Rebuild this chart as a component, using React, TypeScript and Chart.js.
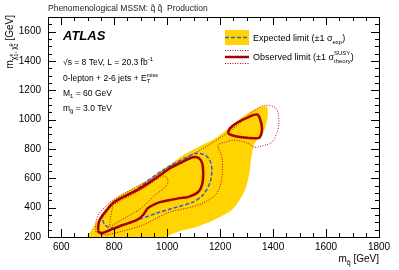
import React, { useEffect, useRef } from 'react';
import { Chart, registerables } from 'chart.js';

Chart.register(...registerables);

// ---- axis ticks ----
const xTickValues = [600, 800, 1000, 1200, 1400, 1600, 1800];
const yTickValues = [200, 400, 600, 800, 1000, 1200, 1400, 1600];
const xRange = [550, 1800];
const yRange = [200, 1700];

// ---- contours: [m_squark, m_chargino] in GeV ----
const expectedBand: [number, number][] = [
  [697, 200], [709, 234], [724, 275], [746, 336], [784, 431], [829, 492], [878, 540],
  [927, 588], [973, 649], [1018, 703], [1060, 758], [1124, 819], [1188, 880], [1244, 962],
  [1305, 1043], [1350, 1084], [1376, 1091], [1380, 1030], [1373, 962], [1358, 894],
  [1335, 853], [1324, 805], [1316, 724], [1309, 622], [1294, 520], [1271, 445],
  [1244, 384], [1199, 336], [1150, 295], [1097, 261], [1048, 241], [1018, 220], [992, 200],
];

const expectedLine: [number, number][] = [
  [754, 329], [769, 384], [799, 438], [837, 479], [886, 526], [935, 594], [984, 656],
  [1022, 696], [1075, 744], [1112, 771], [1143, 758], [1161, 724], [1169, 656],
  [1161, 567], [1135, 486], [1097, 438], [1037, 404], [973, 370], [897, 322],
  [841, 288], [795, 261], [765, 282],
];

const observedMain: [number, number][] = [
  [739, 248], [742, 302], [754, 343], [773, 384], [795, 431], [833, 472], [886, 520],
  [935, 574], [984, 635], [1010, 669], [1048, 703], [1086, 737], [1112, 744], [1127, 724],
  [1135, 676], [1135, 588], [1127, 533], [1112, 499], [1078, 472], [1048, 465],
  [1010, 452], [973, 438], [954, 424], [927, 397], [909, 350], [886, 316], [833, 282],
  [784, 248], [754, 227], [742, 234],
];

const observedIsland: [number, number][] = [
  [1229, 907], [1237, 941], [1267, 982], [1305, 1016], [1339, 1036], [1350, 1009],
  [1358, 941], [1350, 880], [1331, 873], [1282, 880], [1244, 894],
];

const observedPlus: [number, number][] = [
  [731, 234], [731, 302], [742, 356], [765, 404], [795, 452], [841, 499], [897, 554],
  [954, 615], [1010, 683], [1067, 737], [1124, 792], [1180, 853], [1237, 921],
  [1286, 996], [1331, 1064], [1369, 1098], [1407, 1084], [1418, 1050], [1422, 982],
  [1414, 907], [1395, 846], [1369, 826], [1331, 812], [1305, 839], [1256, 860],
  [1218, 846], [1192, 826], [1207, 744], [1207, 608], [1188, 499], [1135, 431],
  [1075, 397], [1010, 370], [961, 329], [909, 282], [833, 241], [765, 214],
];

const observedMinus: [number, number][] = [
  [795, 418], [833, 458], [886, 506], [935, 560], [973, 608], [992, 615], [1003, 588],
  [999, 554], [980, 520], [954, 486], [927, 438], [897, 390], [859, 350], [814, 302],
  [784, 275],
];

const YELLOW = '#FFD400';
const RED = '#A80000';
const RED_DOT = '#C00000';
const BLUE = '#3C5AD8';
const FONT = "'Liberation Sans', Arial, Helvetica, sans-serif";

const closed = (pts: [number, number][]) =>
  [...pts, pts[0]].map(([x, y]) => ({ x, y }));

type Seg = { t: string; s: number; dy: number; adv?: boolean; w?: string };

function segsWidth(ctx: CanvasRenderingContext2D, segs: Seg[]) {
  let w = 0;
  for (const g of segs) {
    ctx.font = `${g.w || ''} ${g.s}px ${FONT}`;
    if (g.adv !== false) w += ctx.measureText(g.t).width;
  }
  return w;
}

function drawSegs(ctx: CanvasRenderingContext2D, segs: Seg[], x: number, y: number) {
  let cx = x;
  for (const g of segs) {
    ctx.font = `${g.w || ''} ${g.s}px ${FONT}`;
    ctx.fillText(g.t, cx, y + g.dy);
    if (g.adv !== false) cx += ctx.measureText(g.t).width;
  }
  return cx;
}

const deco = {
  id: 'deco',
  afterDraw(chart: any) {
    const { ctx, chartArea: a } = chart;
    const xs = chart.scales.x;
    const ys = chart.scales.y;
    ctx.save();
    // frame
    ctx.strokeStyle = '#000';
    ctx.lineWidth = 1;
    ctx.strokeRect(Math.round(a.left) + 0.5, Math.round(a.top) + 0.5,
      Math.round(a.right - a.left), Math.round(a.bottom - a.top));
    // ticks
    ctx.beginPath();
    for (let v = xRange[0]; v <= xRange[1]; v += 50) {
      const px = Math.round(xs.getPixelForValue(v)) + 0.5;
      const len = v % 200 === 0 ? 8 : 4;
      ctx.moveTo(px, a.bottom); ctx.lineTo(px, a.bottom - len);
      ctx.moveTo(px, a.top); ctx.lineTo(px, a.top + len);
    }
    for (let v = yRange[0]; v <= yRange[1]; v += 50) {
      const py = Math.round(ys.getPixelForValue(v)) + 0.5;
      const len = v % 200 === 0 ? 8 : 4;
      ctx.moveTo(a.left, py); ctx.lineTo(a.left + len, py);
      ctx.moveTo(a.right, py); ctx.lineTo(a.right - len, py);
    }
    ctx.stroke();

    ctx.fillStyle = '#000';
    ctx.textBaseline = 'alphabetic';
    ctx.textAlign = 'left';

    // title
    ctx.fillStyle = '#222';
    drawSegs(ctx, [
      { t: 'Phenomenological MSSM: q\u0303 q\u0303  Production', s: 8.5, dy: 0 },
    ], a.left, 11);

    // ATLAS
    ctx.fillStyle = '#000';
    drawSegs(ctx, [{ t: 'ATLAS', s: 13, dy: 0, w: 'italic bold' }], 63, 40);

    const fs = 8.5;
    drawSegs(ctx, [
      { t: '\u221As = 8 TeV, L = 20.3 fb', s: fs, dy: 0 },
      { t: '-1', s: 6, dy: -4 },
    ], 63, 65);
    drawSegs(ctx, [
      { t: '0-lepton + 2-6 jets + E', s: fs, dy: 0 },
      { t: 'miss', s: 5.5, dy: -4, adv: false },
      { t: 'T', s: 6, dy: 2 },
    ], 63, 81);
    drawSegs(ctx, [
      { t: 'M', s: fs, dy: 0 },
      { t: '1', s: 6, dy: 2 },
      { t: ' = 60 GeV', s: fs, dy: 0 },
    ], 63, 96);
    drawSegs(ctx, [
      { t: 'm', s: fs, dy: 0 },
      { t: 'g\u0303', s: 6, dy: 2 },
      { t: ' = 3.0 TeV', s: fs, dy: 0 },
    ], 63, 111);

    // legend
    ctx.fillStyle = YELLOW;
    ctx.fillRect(225, 30, 24, 15);
    ctx.strokeStyle = BLUE;
    ctx.lineWidth = 1.5;
    ctx.setLineDash([4, 2]);
    ctx.beginPath(); ctx.moveTo(225, 37.5); ctx.lineTo(249, 37.5); ctx.stroke();
    ctx.setLineDash([1, 1.5]);
    ctx.strokeStyle = RED_DOT;
    ctx.lineWidth = 1;
    ctx.beginPath();
    ctx.moveTo(225, 50.5); ctx.lineTo(249, 50.5);
    ctx.moveTo(225, 63.5); ctx.lineTo(249, 63.5);
    ctx.stroke();
    ctx.setLineDash([]);
    ctx.strokeStyle = RED;
    ctx.lineWidth = 2.5;
    ctx.beginPath(); ctx.moveTo(225, 57); ctx.lineTo(249, 57); ctx.stroke();

    ctx.fillStyle = '#000';
    drawSegs(ctx, [
      { t: 'Expected limit (\u00B11 \u03C3', s: 9, dy: 0 },
      { t: 'exp', s: 6, dy: 2.5 },
      { t: ')', s: 9, dy: 0 },
    ], 253, 41);
    drawSegs(ctx, [
      { t: 'Observed limit (\u00B11 \u03C3', s: 9, dy: 0 },
      { t: 'SUSY', s: 6, dy: -5, adv: false },
      { t: 'theory', s: 6, dy: 3 },
      { t: ')', s: 9, dy: 0 },
    ], 253, 60);

    // x title
    const xt: Seg[] = [
      { t: 'm', s: 10, dy: 0 },
      { t: 'q\u0303', s: 7, dy: 2.5 },
      { t: ' [GeV]', s: 10, dy: 0 },
    ];
    const xw = segsWidth(ctx, xt);
    drawSegs(ctx, xt, a.right - xw, 262);

    // y title (rotated)
    const yt: Seg[] = [
      { t: 'm', s: 10, dy: 0 },
      { t: '\u03C7\u0303', s: 7, dy: 2.5 },
      { t: '\u00B1', s: 5, dy: -0.5, adv: false },
      { t: '1', s: 5, dy: 5 },
      { t: ', \u03C7\u0303', s: 7, dy: 2.5 },
      { t: '0', s: 5, dy: -0.5, adv: false },
      { t: '2', s: 5, dy: 5 },
      { t: ' [GeV]', s: 10, dy: 0 },
    ];
    const yw = segsWidth(ctx, yt);
    ctx.translate(13, 0);
    ctx.rotate(-Math.PI / 2);
    drawSegs(ctx, yt, -15 - yw, 0);
    ctx.restore();
  },
};

export default function App() {
  const ref = useRef<HTMLCanvasElement | null>(null);
  useEffect(() => {
    document.body.style.margin = '0';
    if (!ref.current) return;
    const line = (pts: [number, number][], color: string, width: number, dash: number[], order: number) => ({
      data: closed(pts),
      showLine: true,
      fill: false,
      borderColor: color,
      borderWidth: width,
      borderDash: dash,
      pointRadius: 0,
      tension: 0.3,
      order,
    });
    const chart = new Chart(ref.current, {
      type: 'scatter',
      data: {
        datasets: [
          {
            data: closed(expectedBand),
            showLine: true,
            fill: 'shape',
            backgroundColor: YELLOW,
            borderColor: YELLOW,
            borderWidth: 0,
            pointRadius: 0,
            tension: 0.3,
            order: 10,
          } as any,
          line(observedPlus, RED_DOT, 1, [1, 1.5], 6),
          line(observedMinus, RED_DOT, 1, [1, 1.5], 5),
          line(expectedLine, BLUE, 1.5, [4, 2], 4),
          line(observedMain, RED, 2.5, [], 2),
          line(observedIsland, RED, 2.5, [], 1),
        ],
      },
      options: {
        responsive: false,
        animation: false,
        devicePixelRatio: 1,
        events: [],
        layout: { padding: { top: 17, right: 20, left: 0, bottom: 0 } },
        plugins: {
          legend: { display: false },
          tooltip: { enabled: false },
          title: { display: false },
        },
        scales: {
          x: {
            type: 'linear',
            min: xRange[0],
            max: xRange[1],
            afterFit: (s: any) => { s.height = 33; },
            afterBuildTicks: (ax: any) => { ax.ticks = xTickValues.map((v) => ({ value: v })); },
            grid: { display: false, drawTicks: false },
            border: { display: false },
            ticks: {
              color: '#000', font: { family: FONT, size: 10 }, padding: 4, maxRotation: 0, autoSkip: false,
              callback: (v: any) => String(v),
            },
          },
          y: {
            type: 'linear',
            min: yRange[0],
            max: yRange[1],
            afterFit: (s: any) => { s.width = 48; },
            afterBuildTicks: (ax: any) => { ax.ticks = yTickValues.map((v) => ({ value: v })); },
            grid: { display: false, drawTicks: false },
            border: { display: false },
            ticks: {
              color: '#000', font: { family: FONT, size: 10 }, padding: 7, autoSkip: false,
              callback: (v: any) => String(v),
            },
          },
        },
      } as any,
      plugins: [deco],
    });
    return () => chart.destroy();
  }, []);
  return (
    <div style={{ width: 399, height: 270, background: '#fff' }}>
      <canvas ref={ref} width={399} height={270} style={{ display: 'block', width: 399, height: 270 }} />
    </div>
  );
}
